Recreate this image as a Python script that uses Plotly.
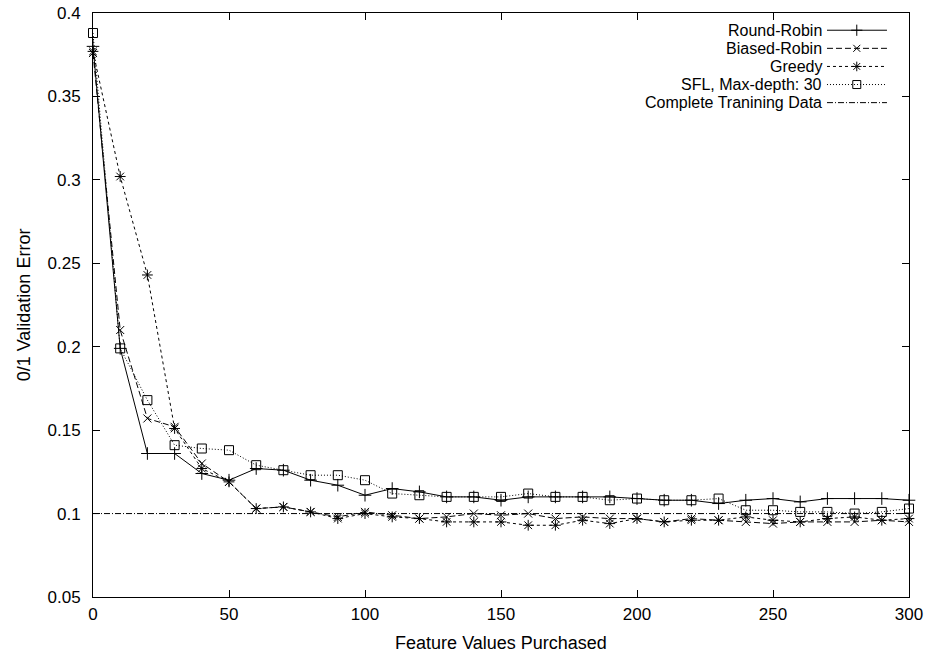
import plotly.graph_objects as go

x_vals = list(range(0, 301, 10))

round_robin = [0.380, 0.199, 0.136, 0.136, 0.124, 0.120, 0.127, 0.126, 0.120, 0.117,
               0.111, 0.115, 0.113, 0.110, 0.110, 0.108, 0.110, 0.110, 0.110, 0.110,
               0.109, 0.108, 0.108, 0.106, 0.108, 0.109, 0.107, 0.109, 0.109, 0.109, 0.108]
biased_robin = [0.376, 0.210, 0.157, 0.152, 0.130, 0.119, 0.103, 0.104, 0.101, 0.098,
                0.101, 0.099, 0.097, 0.098, 0.100, 0.099, 0.100, 0.097, 0.098, 0.097,
                0.097, 0.095, 0.097, 0.096, 0.095, 0.094, 0.095, 0.095, 0.095, 0.096, 0.095]
greedy = [0.377, 0.302, 0.243, 0.151, 0.127, 0.119, 0.103, 0.104, 0.101, 0.097,
          0.100, 0.098, 0.097, 0.095, 0.095, 0.095, 0.093, 0.093, 0.096, 0.094,
          0.097, 0.095, 0.096, 0.096, 0.098, 0.096, 0.095, 0.097, 0.098, 0.096, 0.097]
sfl = [0.388, 0.199, 0.168, 0.141, 0.139, 0.138, 0.129, 0.126, 0.123, 0.123,
       0.120, 0.112, 0.111, 0.110, 0.110, 0.110, 0.112, 0.110, 0.110, 0.108,
       0.109, 0.108, 0.108, 0.109, 0.102, 0.102, 0.101, 0.101, 0.100, 0.101, 0.103]
complete_x = [0, 300]
complete_y = [0.1, 0.1]

series_names = ["Round-Robin", "Biased-Robin", "Greedy", "SFL, Max-depth: 30",
                "Complete Tranining Data"]
dashes = ["solid", "6px,3px", "3px,3px", "1px,2px", "6px,2px,1px,2px"]
symbols = ["cross-thin", "x-thin", "asterisk", "square-open", None]
sizes = [9, 8, 9, 9, 0]

FONT = "Liberation Sans, Arial, sans-serif"
FS_TICK = 17
FS_TEXT = 18
FS_LEG = 16
fig = go.Figure()

data = [(x_vals, round_robin), (x_vals, biased_robin), (x_vals, greedy), (x_vals, sfl),
        (complete_x, complete_y)]
for i, (xs, ys) in enumerate(data):
    mode = "lines+markers" if symbols[i] else "lines"
    marker = dict(symbol=symbols[i], size=sizes[i], color="black",
                  line=dict(width=1, color="black")) if symbols[i] else None
    fig.add_trace(go.Scatter(x=xs, y=ys, mode=mode, name=series_names[i],
                             line=dict(color="black", width=1, dash=dashes[i]),
                             marker=marker, showlegend=False, cliponaxis=False))

# Custom gnuplot-style legend (text right-aligned, sample on its right) on hidden overlay axes
leg_top = 0.9705
leg_step = 0.0310
for i, name in enumerate(series_names):
    yy = leg_top - i * leg_step
    fig.add_trace(go.Scatter(x=[0.8995, 0.973], y=[yy, yy], xaxis="x2", yaxis="y2",
                             mode="lines", line=dict(color="black", width=1, dash=dashes[i]),
                             showlegend=False, hoverinfo="skip"))
    if symbols[i]:
        fig.add_trace(go.Scatter(x=[0.936], y=[yy], xaxis="x2", yaxis="y2", mode="markers",
                                 marker=dict(symbol=symbols[i], size=sizes[i] - 1, color="black",
                                             line=dict(width=1, color="black")),
                                 showlegend=False, hoverinfo="skip"))
    fig.add_annotation(x=0.8945, y=yy, xref="x2", yref="y2", text=name, showarrow=False,
                       xanchor="right", yanchor="middle", borderpad=0,
                       font=dict(family=FONT, size=FS_LEG, color="black"))

axis_common = dict(showline=True, linecolor="black", linewidth=1, mirror="allticks",
                   ticks="inside", ticklen=7, tickcolor="black", showgrid=False,
                   zeroline=False, automargin=False,
                   tickfont=dict(family=FONT, size=FS_TICK, color="black"))

fig.update_layout(
    width=929, height=654,
    margin=dict(l=93, r=20, t=13, b=57),
    paper_bgcolor="white", plot_bgcolor="white",
    font=dict(family=FONT, size=FS_TEXT, color="black"),
    xaxis=dict(range=[0, 300], tickvals=[0, 50, 100, 150, 200, 250, 300],
               ticklabelstandoff=2,
               title=dict(text="Feature Values Purchased", standoff=12,
                          font=dict(family=FONT, size=FS_TEXT)), **axis_common),
    yaxis=dict(range=[0.05, 0.4], tickvals=[0.05, 0.1, 0.15, 0.2, 0.25, 0.3, 0.35, 0.4],
               ticktext=["0.05", "0.1", "0.15", "0.2", "0.25", "0.3", "0.35", "0.4"],
               ticklabelstandoff=8,
               title=dict(text="0/1 Validation Error", standoff=12,
                          font=dict(family=FONT, size=FS_TEXT)), **axis_common),
    xaxis2=dict(overlaying="x", range=[0, 1], visible=False, fixedrange=True),
    yaxis2=dict(overlaying="y", range=[0, 1], visible=False, fixedrange=True),
)

fig.write_html("out.html")
